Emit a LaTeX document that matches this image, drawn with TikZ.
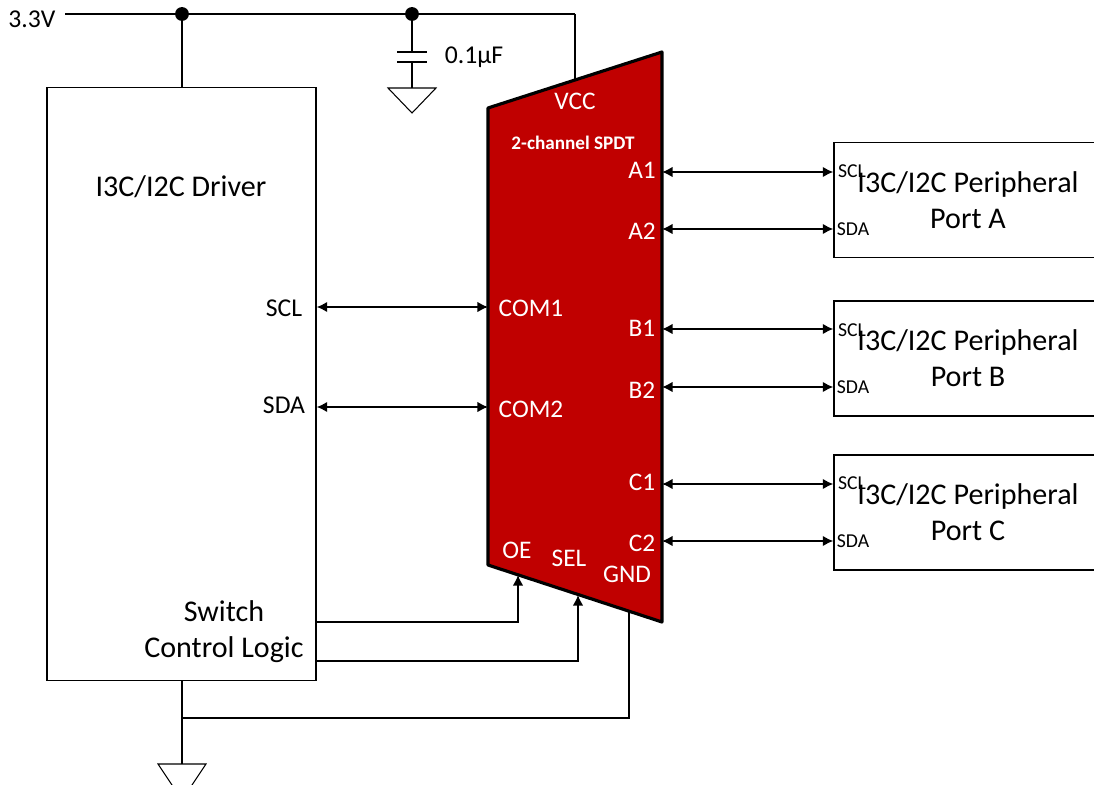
\documentclass[tikz,border=0pt]{standalone}
\usepackage{fontspec}
\setmainfont{Carlito}
\usepackage{tikz}
\usetikzlibrary{calc,arrows.meta}
\definecolor{swred}{HTML}{C00000}
\newcommand{\dotsize}{1.25pt}

\begin{document}
\begin{tikzpicture}[x=.01cm,y=-.01cm,
    wire/.style={line width=.45pt},
    bus/.style={line width=.45pt,{Latex[length=3pt,width=3pt]}-{Latex[length=3pt,width=3pt]}},
    ctrl/.style={line width=.45pt,-{Latex[length=3pt,width=3pt]}},
    block/.style={draw,line width=.35pt,inner sep=0pt},
    junction/.style={draw,fill,circle,inner sep=\dotsize},
    txt/.style={inner sep=0pt,font=\fontsize{8.55}{10.25}\selectfont,align=center},
    lbl/.style={inner sep=0pt,font=\fontsize{7.3}{9}\selectfont},
    pin/.style={inner sep=0pt,text=white,font=\fontsize{7.2}{9}\selectfont},
    tiny/.style={inner sep=0pt,font=\fontsize{5.6}{7}\selectfont}]
      \useasboundingbox (0,0) rectangle (1094,785);

      % blocks
        \node (driver) at (181.5,384) [block,minimum width=2.69cm,minimum height=5.92cm] {};
        \node (portA) at (968,200) [block,minimum width=2.68cm,minimum height=1.15cm] {};
        \node (portB) at (968,358.5) [block,minimum width=2.68cm,minimum height=1.15cm] {};
        \node (portC) at (968,512.5) [block,minimum width=2.68cm,minimum height=1.15cm] {};

      % switch
        \coordinate (swnw) at (488,108);
        \coordinate (swne) at (662,52);
        \coordinate (swse) at (662,622);
        \coordinate (swsw) at (488,565);
        \draw[line width=.9pt,fill=swred,line join=round] (swnw) -- (swne) -- (swse) -- (swsw) -- cycle;

      % pins
        \coordinate (vcc) at (575,80);
        \coordinate (a1) at (662,172);
        \coordinate (a2) at (662,229);
        \coordinate (b1) at (662,329);
        \coordinate (b2) at (662,387);
        \coordinate (c1) at (662,484);
        \coordinate (c2) at (662,541);
        \coordinate (com1) at (488,307);
        \coordinate (com2) at (488,407);
        \coordinate (oe) at (518,575);
        \coordinate (sel) at (578,595);
        \coordinate (gnd) at (629,611);

      % supply
        \coordinate (rail) at (65,14);
        \node (dot1) at (182,14) [junction] {};
        \node (dot2) at (412,14) [junction] {};
        \coordinate (corner) at (575,14);
        \draw[line width=.6pt] (rail) to (dot1) to (dot2) to (corner);
        \draw[wire] (corner) to (vcc);
        \draw[wire] (dot1) to (dot1 |- driver.north);

      % capacitor
        \coordinate (capa) at (412,52);
        \coordinate (capb) at (412,62);
        \coordinate (cgnd) at (412,88);
        \coordinate (ctip) at (412,113);
        \draw[wire] (dot2) to (capa);
        \draw[wire] (capb) to (cgnd);
        \draw[line width=.6pt] ($(capa)+(-15,0)$) to ($(capa)+(15,0)$);
        \draw[line width=.6pt] ($(capb)+(-15,0)$) to ($(capb)+(15,0)$);
        \draw[line width=.3pt] ($(cgnd)+(-24,0)$) to ($(cgnd)+(24,0)$) to (ctip) to cycle;

      % buses
        \draw[bus] (a1) to (a1 -| portA.west);
        \draw[bus] (a2) to (a2 -| portA.west);
        \draw[bus] (b1) to (b1 -| portB.west);
        \draw[bus] (b2) to (b2 -| portB.west);
        \draw[bus] (c1) to (c1 -| portC.west);
        \draw[bus] (c2) to (c2 -| portC.west);
        \draw[bus] (com1 -| driver.east) to (com1);
        \draw[bus] (com2 -| driver.east) to (com2);

      % control and ground
        \coordinate (oeout) at (316,622);
        \coordinate (selout) at (316,661);
        \draw[ctrl] (oeout) -| (oe);
        \draw[ctrl] (selout) -| (sel);
        \coordinate (gndout) at (182,680);
        \coordinate (gndjoin) at (182,718);
        \coordinate (dgnd) at (182,764);
        \coordinate (dtip) at (182,800);
        \draw[wire] (gndout) to (gndjoin) to (dgnd);
        \draw[wire] (gndjoin) -| (gnd);
        \draw[line width=.3pt] ($(dgnd)+(-24,0)$) to ($(dgnd)+(24,0)$) to (dtip) to cycle;

      % texts
        \node (vlabel) at (32,19) [lbl] {3.3V};
        \node (caplabel) at (474,57) [lbl] {0.1µF};
        \node (drvlabel) at (181,187) [txt] {I3C/I2C Driver};
        \node (scl) at (284,308) [lbl] {SCL};
        \node (sda) at (284,405) [lbl] {SDA};
        \node (logic) at (224,632) [txt] {Switch\\Control Logic};

        \node (vcclabel) at (575,101) [pin] {VCC};
        \node (title) at (573,143) [pin,font=\bfseries\fontsize{5.45}{7}\selectfont] {2-channel SPDT};
        \node (a1label) at (642,170) [pin] {A1};
        \node (a2label) at (642,231) [pin] {A2};
        \node (b1label) at (642,328) [pin] {B1};
        \node (b2label) at (642,390) [pin] {B2};
        \node (c1label) at (642,482) [pin] {C1};
        \node (c2label) at (642,543) [pin] {C2};
        \node (com1label) at (531,308) [pin] {COM1};
        \node (com2label) at (531,409) [pin] {COM2};
        \node (oelabel) at (517,550) [pin] {OE};
        \node (sellabel) at (569,558) [pin] {SEL};
        \node (gndlabel) at (627,574) [pin] {GND};

        \node (portAtext) at (968,200) [txt] {I3C/I2C Peripheral\\Port A};
        \node (portBtext) at (968,358.5) [txt] {I3C/I2C Peripheral\\Port B};
        \node (portCtext) at (968,512) [txt] {I3C/I2C Peripheral\\Port C};

        \node (sclA) at (852,171) [tiny] {SCL};
        \node (sdaA) at (853,229) [tiny] {SDA};
        \node (sclB) at (852,330) [tiny] {SCL};
        \node (sdaB) at (853,387) [tiny] {SDA};
        \node (sclC) at (852,483) [tiny] {SCL};
        \node (sdaC) at (853,541) [tiny] {SDA};
\end{tikzpicture}
\end{document}
